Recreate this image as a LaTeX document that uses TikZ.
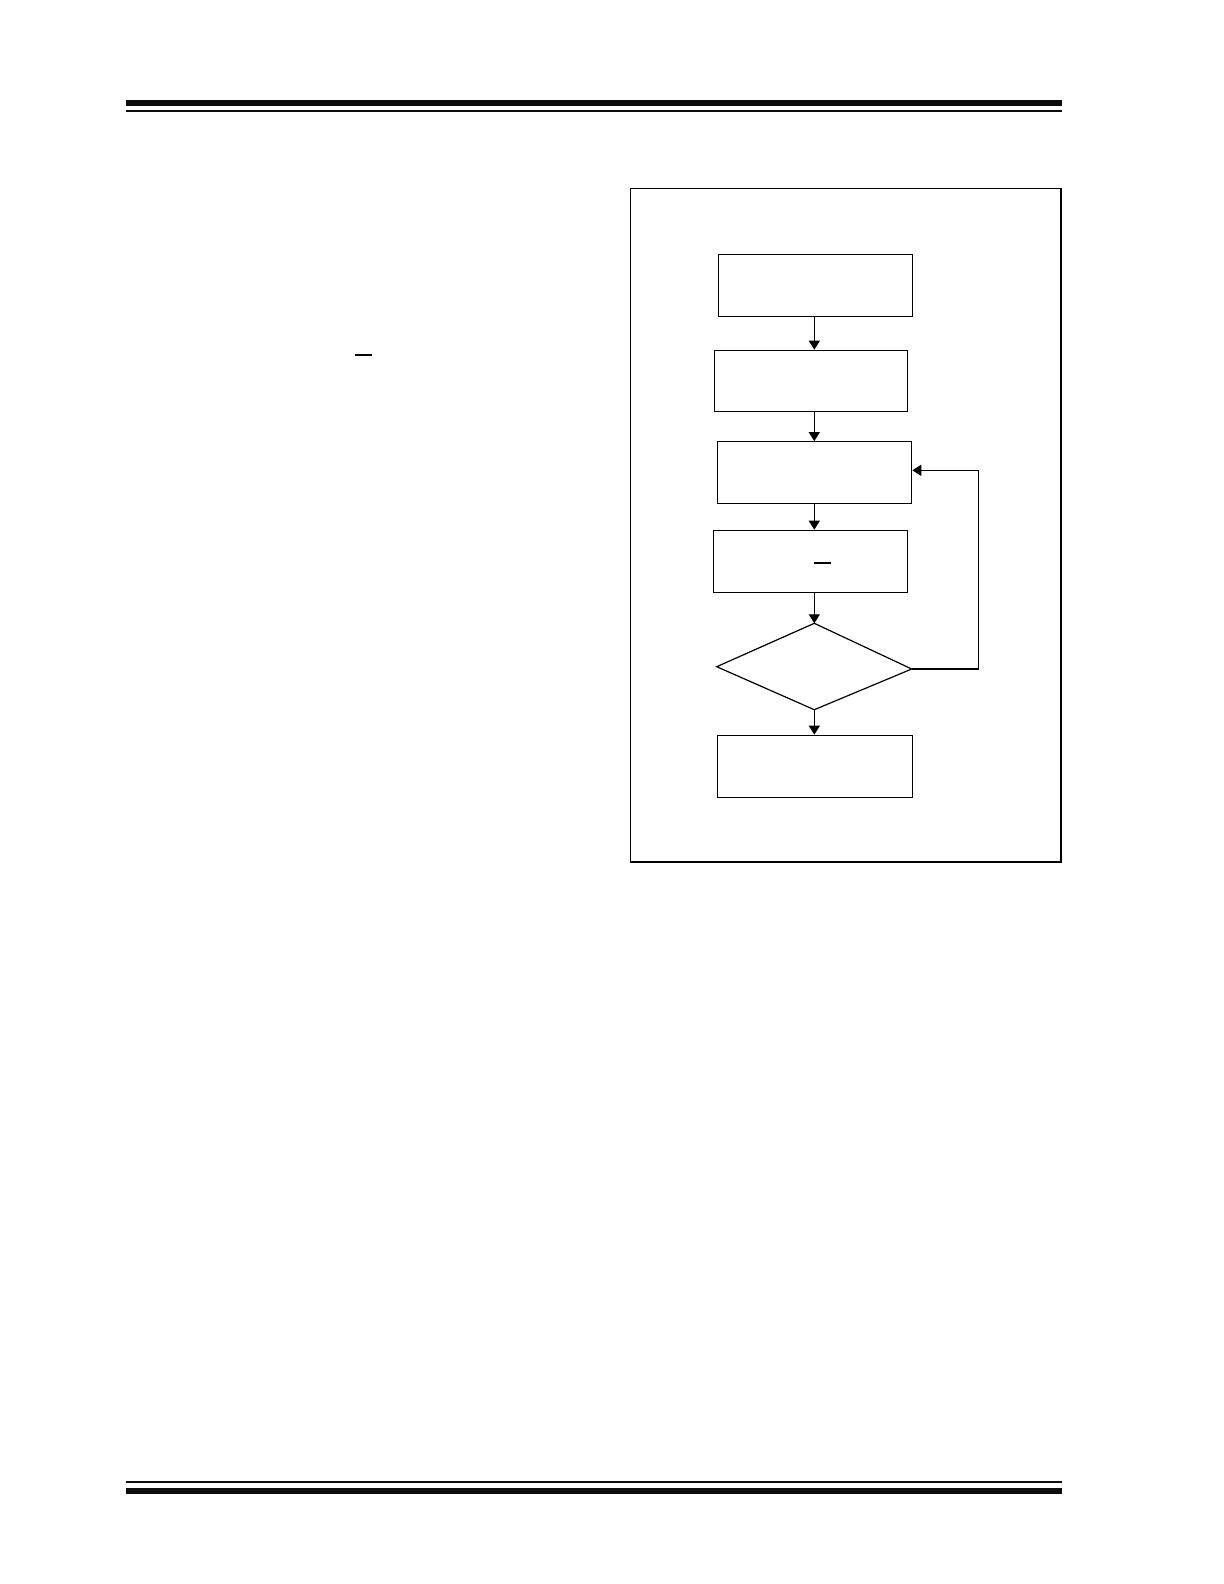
\documentclass[tikz,border=0pt]{standalone}
\usetikzlibrary{arrows.meta}
\begin{document}
\begin{tikzpicture}[x=0.5pt,y=-0.5pt,
  stepbox/.style={draw=black,line width=0.6pt,rectangle,inner sep=0pt,minimum width=97.2pt,minimum height=31pt},
  flow/.style={draw=black,line width=0.6pt,-{Triangle[width=5.5pt,length=4.5pt]}},
  rulebar/.style={fill=black!95,draw=none}]
\useasboundingbox (0,0) rectangle (1224,1584);
% page rules
\fill[rulebar] (126,100) rectangle (1062,106);
\fill[rulebar] (126,110) rectangle (1062,112);
\fill[rulebar] (126,1481) rectangle (1062,1483);
\fill[rulebar] (126,1487.7) rectangle (1062,1494);
% stray overline in body text
\draw[line width=0.6pt] (355,355) -- (371.7,355);
% figure frame
\draw[line width=0.6pt] (630.3,188.7) rectangle (1061,862);
% flowchart
\coordinate (col) at (814.3,0);
\node[stepbox] (b1) at (815.5,285.3) {};
\node[stepbox,minimum width=96.7pt,minimum height=30.5pt] (b2) at (811,380.8) {};
\node[stepbox,minimum height=30.8pt] (b3) at (814.5,472.5) {};
\node[stepbox] (b4) at (810.5,561.3) {};
\coordinate (dt) at (814.3,623.3);
\coordinate (dl) at (716.7,666.7);
\coordinate (dr) at (911.7,669);
\coordinate (db) at (814.3,709.7);
\draw[line width=0.6pt] (dt) -- (dr) -- (db) -- (dl) -- cycle;
\node[stepbox,minimum width=97.7pt] (b5) at (815,766.3) {};
\draw[line width=0.6pt] (814,563) -- (830.7,563);
\draw[flow] (col |- b1.south) -- (col |- b2.north);
\draw[flow] (col |- b2.south) -- (col |- b3.north);
\draw[flow] (col |- b3.south) -- (col |- b4.north);
\draw[flow] (col |- b4.south) -- (dt);
\draw[flow] (db) -- (col |- b5.north);
\coordinate (fb) at (978.3,669);
\coordinate (b3in) at ([yshift=1.1pt]b3.east);
\draw[flow] (dr) -- (fb) |- (b3in);
\end{tikzpicture}
\end{document}
